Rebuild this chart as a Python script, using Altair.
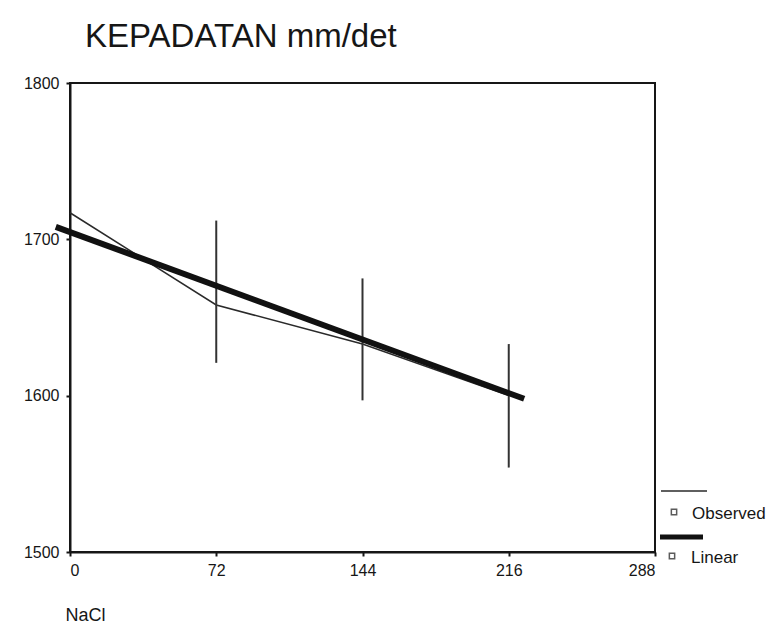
import altair as alt
import pandas as pd

# ---- data ----
nacl = [0, 72, 144, 216]
observed = [1717, 1658, 1633, 1600]
linear_x = [-7, 223.6]
linear_y = [1708, 1598]
bar_x = [72, 144, 216]
bar_low = [1621, 1597, 1554]
bar_high = [1712, 1675, 1633]
x_ticks = [0, 72, 144, 216, 288]
y_ticks = [1500, 1600, 1700, 1800]
legend_labels = ["Observed", "Linear"]

FONT = "Liberation Sans"
INK = "#161616"

obs_df = pd.DataFrame({"NaCl": nacl, "value": observed})
lin_df = pd.DataFrame({"NaCl": linear_x, "value": linear_y})
bar_df = pd.DataFrame({"NaCl": bar_x, "low": bar_low, "high": bar_high})

x_scale = alt.Scale(domain=[0, 288], nice=False, zero=False)
y_scale = alt.Scale(domain=[1500, 1800], nice=False, zero=False)

common_axis = dict(
    grid=False,
    domainColor=INK,
    domainWidth=2,
    tickColor=INK,
    tickWidth=2,
    tickSize=4,
    labelFont=FONT,
    labelFontSize=16,
    labelColor=INK,
    format="d",
)

x_enc = alt.X(
    "NaCl:Q",
    scale=x_scale,
    axis=alt.Axis(
        values=x_ticks,
        title="NaCl",
        titleFontSize=18,
        titleFont=FONT,
        titleFontWeight="normal",
        titleColor=INK,
        titleAnchor="start",
        titleAlign="left",
        titleBaseline="alphabetic",
        titleX=-5,
        titleY=68,
        labelPadding=6,
        **common_axis,
    ),
)
y_enc = alt.Y(
    "value:Q",
    scale=y_scale,
    axis=alt.Axis(values=y_ticks, title=None, labelPadding=7, **common_axis),
)

bars = alt.Chart(bar_df).mark_rule(color="#333333", strokeWidth=2).encode(
    x=alt.X("NaCl:Q", scale=x_scale),
    y=alt.Y("low:Q", scale=y_scale),
    y2="high:Q",
)

obs_line = alt.Chart(obs_df).mark_line(color="#2a2a2a", strokeWidth=1.5).encode(
    x=x_enc, y=y_enc
)

lin_line = alt.Chart(lin_df).mark_line(color="#111111", strokeWidth=6).encode(
    x=alt.X("NaCl:Q", scale=x_scale),
    y=alt.Y("value:Q", scale=y_scale),
)

# ---- custom legend (line above, small square + label below) ----
def one(label):
    return pd.DataFrame({"label": [label]})

leg_obs_rule = alt.Chart(one(legend_labels[0])).mark_rule(
    color="#2a2a2a", strokeWidth=1.5
).encode(x=alt.value(591), x2=alt.value(637), y=alt.value(408))
leg_obs_pt = alt.Chart(one(legend_labels[0])).mark_point(
    shape="square", filled=False, color=INK, size=28, strokeWidth=1.5
).encode(x=alt.value(604), y=alt.value(429))
leg_obs_txt = alt.Chart(one(legend_labels[0])).mark_text(
    align="left", baseline="middle", fontSize=17, font=FONT, color=INK
).encode(x=alt.value(622), y=alt.value(431), text="label:N")

leg_lin_rule = alt.Chart(one(legend_labels[1])).mark_rule(
    color="#111111", strokeWidth=5
).encode(x=alt.value(590), x2=alt.value(633), y=alt.value(454))
leg_lin_pt = alt.Chart(one(legend_labels[1])).mark_point(
    shape="square", filled=False, color=INK, size=28, strokeWidth=1.5
).encode(x=alt.value(602), y=alt.value(473))
leg_lin_txt = alt.Chart(one(legend_labels[1])).mark_text(
    align="left", baseline="middle", fontSize=17, font=FONT, color=INK
).encode(x=alt.value(621), y=alt.value(475), text="label:N")

chart = (
    alt.layer(
        obs_line, bars, lin_line,
        leg_obs_rule, leg_obs_pt, leg_obs_txt,
        leg_lin_rule, leg_lin_pt, leg_lin_txt,
    )
    .properties(
        width=585,
        height=469,
        autosize=alt.AutoSizeParams(type="none"),
        padding={"left": 70, "top": 83, "right": 121, "bottom": 77},
        title=alt.TitleParams(
            "KEPADATAN mm/det",
            anchor="start",
            frame="group",
            fontSize=33,
            font=FONT,
            fontWeight="normal",
            color=INK,
            offset=34,
            baseline="alphabetic",
            dx=15,
            dy=39,
        ),
    )
    .configure(background="white")
    .configure_view(stroke=INK, strokeWidth=2)
    .configure_axis(grid=False)
)

chart.save("out.html", embed_options={"renderer": "svg", "actions": False})
